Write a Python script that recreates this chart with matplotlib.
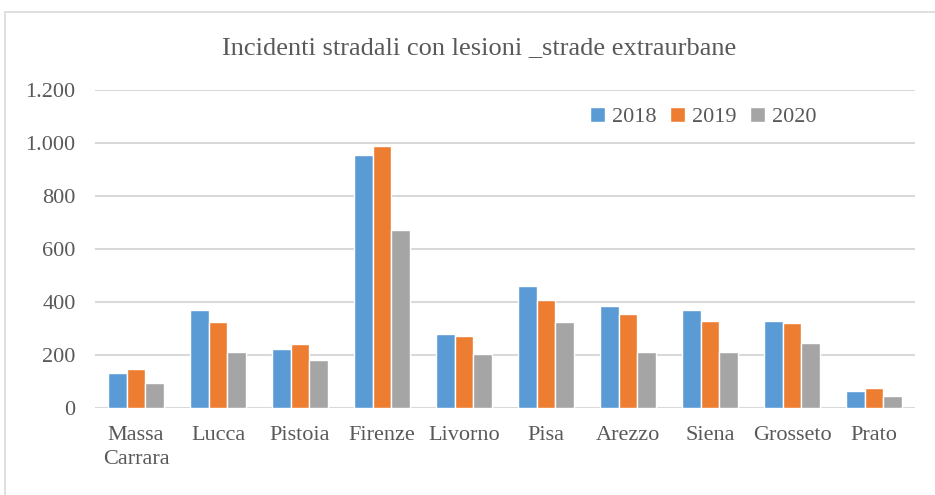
import numpy as np
import matplotlib.pyplot as plt
from matplotlib.patches import Rectangle
from matplotlib.ticker import FuncFormatter

# province e incidenti per anno
province = ["Massa\nCarrara", "Lucca", "Pistoia", "Firenze", "Livorno",
            "Pisa", "Arezzo", "Siena", "Grosseto", "Prato"]
anni = ["2018", "2019", "2020"]
inc_2018 = [133, 369, 222, 955, 281, 462, 384, 369, 330, 64]
inc_2019 = [148, 324, 240, 989, 271, 407, 355, 330, 319, 75]
inc_2020 = [95, 212, 180, 673, 203, 325, 212, 212, 247, 44]
colori = ["#5B9BD5", "#ED7D31", "#A5A5A5"]

plt.rcParams['font.family'] = ['Liberation Serif', 'DejaVu Serif']
grigio_testo = "#595959"

fig = plt.figure(figsize=(9.35, 4.95), dpi=100)
ax = fig.add_axes([95 / 935, 1 - 408 / 495, 820 / 935, 318 / 495])

# cornice del grafico
fig.patches.append(Rectangle((5 / 935, -0.1), 1.0, 1 - 12 / 495 + 0.1,
                             transform=fig.transFigure, fill=False,
                             edgecolor="#d9d9d9", linewidth=1.2))

x = np.arange(len(province))
w = 0.225
for i, (anno, dati) in enumerate(zip(anni, [inc_2018, inc_2019, inc_2020])):
    ax.bar(x + (i - 1) * w, dati, width=w, color=colori[i], label=anno,
           edgecolor="white", linewidth=1.0, zorder=3)

ax.set_xlim(-0.5, len(province) - 0.5)
ax.set_ylim(0, 1200)
ax.set_yticks(range(0, 1201, 200))
ax.yaxis.set_major_formatter(FuncFormatter(lambda v, p: f"{int(v):,}".replace(",", ".")))
ax.set_xticks(x)
ax.set_xticklabels(province, linespacing=1.35)
ax.grid(axis="y", color="#d9d9d9", linewidth=1.5, zorder=0)
for s in ax.spines.values():
    s.set_visible(False)
ax.tick_params(axis="both", length=0, labelsize=16, colors=grigio_testo)
ax.tick_params(axis="y", pad=14)
ax.tick_params(axis="x", pad=13)

fig.text(479 / 935, 1 - 48 / 495, "Incidenti stradali con lesioni _strade extraurbane",
         ha="center", va="center", fontsize=19, color=grigio_testo)

leg = ax.legend(loc="center", bbox_to_anchor=((703 - 95) / 820, (408 - 117) / 318),
                ncol=3, frameon=False, fontsize=16, handlelength=0.7, handleheight=0.7,
                handletextpad=0.3, columnspacing=0.6)
for t in leg.get_texts():
    t.set_color(grigio_testo)

fig.savefig("out.png", dpi=100)
